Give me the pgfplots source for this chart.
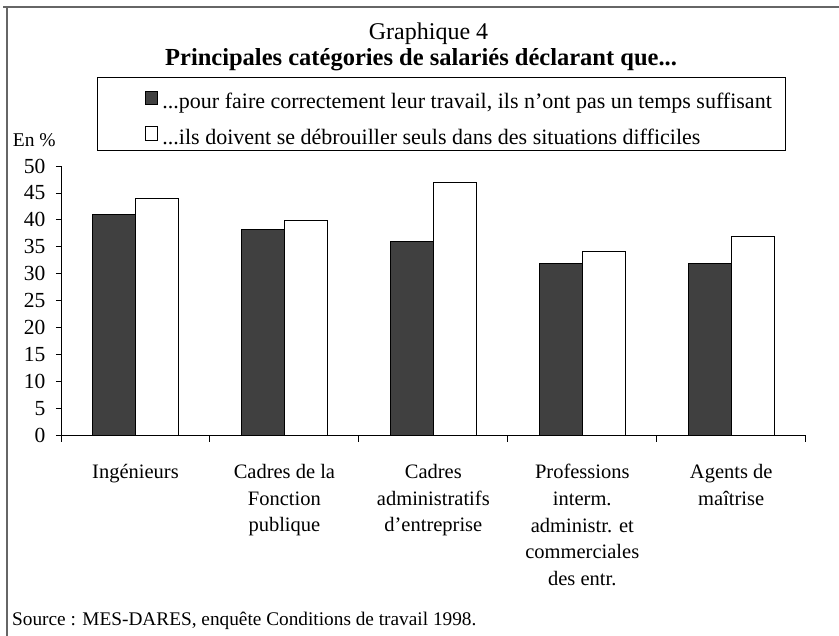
\documentclass[border=0pt]{standalone}
\usepackage{pgfplots}
\pgfplotsset{compat=1.18}
\usepackage{fontspec}
\setmainfont{Liberation Serif}
\definecolor{darkbar}{HTML}{404040}
\begin{document}
\begin{tikzpicture}
\path[use as bounding box] (0pt,0pt) rectangle (839pt,636pt);
\draw[line width=1.8pt, black!60] (3pt,628.7pt) -- (839pt,628.7pt);
\draw[line width=1.8pt, black!60] (7.3pt,628.7pt) -- (7.3pt,0pt);
\node[anchor=base, inner sep=0pt, font=\fontsize{24}{28}\selectfont] at (428.5pt,596pt) {Graphique 4};
\node[anchor=base, inner sep=0pt, font=\bfseries\fontsize{24.5}{28}\selectfont] at (421pt,570pt) {Principales catégories de salariés déclarant que...};
\draw[line width=1pt] (97.7pt,558pt) rectangle (785.7pt,485pt);
\node[anchor=base west, inner sep=0pt, font=\fontsize{19.5}{23}\selectfont] at (12.7pt,489.3pt) {En \%};
\node[anchor=base west, inner sep=0pt, font=\fontsize{19.3}{23}\selectfont] at (12pt,10pt) {Source : MES-DARES, enquête Conditions de travail 1998.};
\begin{axis}[
  at={(61pt,200.3pt)}, anchor=south west,
  scale only axis, width=744.7pt, height=269.7pt,
  xmin=0.5, xmax=5.5, ymin=0, ymax=50,
  ytick={0,5,...,50},
  xtick={1,2,3,4,5},
  xticklabels={Ingénieurs,Cadres de la\\Fonction\\publique,Cadres\\administratifs\\d’entreprise,Professions\\interm.\\administr. et\\commerciales\\des entr.,Agents de\\maîtrise},
  minor xtick={0.5,1.5,...,5.5},
  axis x line*=bottom, axis y line*=left,
  axis line style={-, line width=0.9pt},
  tick align=outside,
  major tick length=5pt, minor tick length=6pt,
  tick style={black, line width=0.9pt},
  major x tick style={draw=none},
  ybar=0pt, bar width=0.29,
  xticklabel style={font=\fontsize{20.5}{26.7}\selectfont, align=center, anchor=north, yshift=-20pt},
  yticklabel style={font=\fontsize{21.5}{25}\selectfont, xshift=-7pt},
  /pgf/number format/assume math mode=true,
  legend style={at={(rel axis cs:0.1128,1.295)}, anchor=north west, draw=none, fill=none, inner sep=0pt, row sep=10pt, font=\fontsize{22}{26}\selectfont, nodes={inner sep=2pt}},
  legend cell align=left,
  clip=false,
]
\addplot[fill=darkbar, draw=black, line width=0.8pt,
  legend image code/.code={\path[draw=none, fill=none] (0pt,-5pt) rectangle (15pt,15pt); \draw[fill=darkbar, draw=black, line width=0.6pt] (0pt,-3pt) rectangle (12pt,10.5pt);}]
  coordinates {(1,41) (2,38.3) (3,36) (4,32) (5,32)};
\addlegendentry{...pour faire correctement leur travail, ils n’ont pas un temps suffisant}
\addplot[fill=white, draw=black, line width=0.8pt,
  legend image code/.code={\path[draw=none, fill=none] (0pt,-5pt) rectangle (15pt,15pt); \draw[fill=white, draw=black, line width=0.6pt] (0pt,-3pt) rectangle (12pt,10.5pt);}]
  coordinates {(1,44) (2,40) (3,47) (4,34.2) (5,37)};
\addlegendentry{...ils doivent se débrouiller seuls dans des situations difficiles}
\end{axis}
\end{tikzpicture}
\end{document}
